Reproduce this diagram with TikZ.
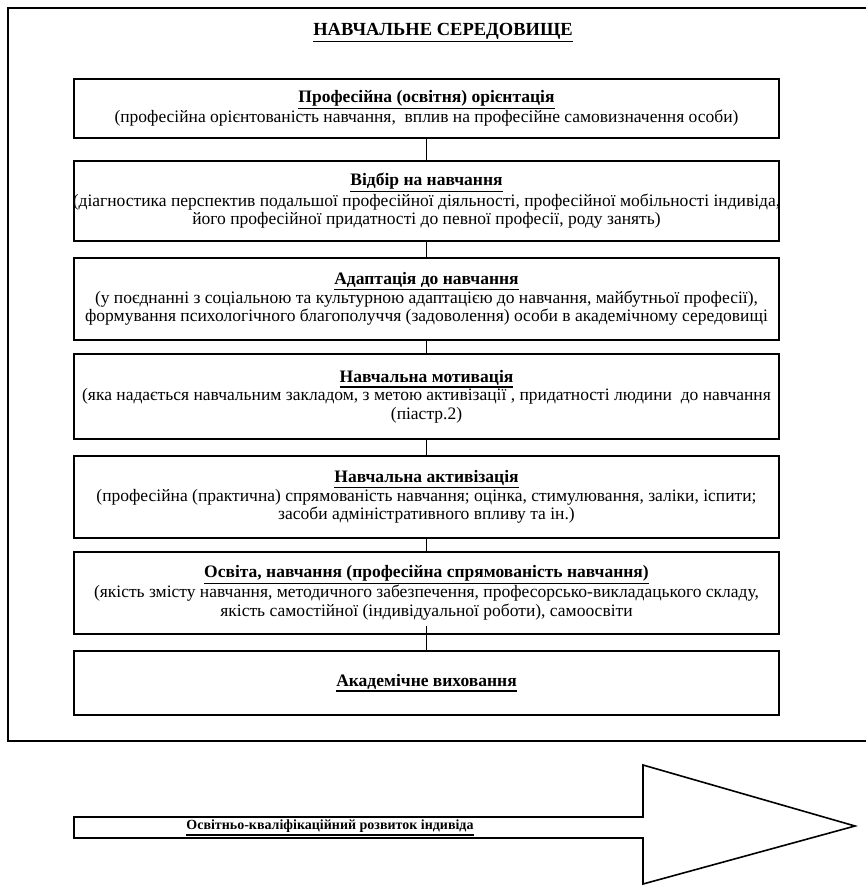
\documentclass[tikz,border=0pt]{standalone}
\usepackage{fontspec}
\setmainfont{Liberation Serif}
\newcommand\ulbf[1]{\textbf{\vtop{\hbox{#1}\kern1.3pt\hrule height 1.5pt}}}
\tikzset{
  stagebox/.style={draw, line width=1.7pt, minimum width=705pt, align=center,
    inner sep=0pt, anchor=north, font=\fontsize{17.5}{18.5}\selectfont},
  conn/.style={line width=1.3pt},
  frame/.style={line width=1.8pt}
}
\begin{document}
\begin{tikzpicture}[x=1pt,y=-1pt]
\useasboundingbox (0,0) rectangle (865,886);
\draw[frame] (880,8) -- (8,8) -- (8,741) -- (880,741);
\node[font=\fontsize{18.5}{20}\selectfont] (title) at (443,33) {\ulbf{НАВЧАЛЬНЕ СЕРЕДОВИЩЕ}};

\node[stagebox, minimum height=59pt] (b1) at (426.5,78)
  {\ulbf{Професійна (освітня) орієнтація}\\
   (професійна орієнтованість навчання,\ \ вплив на професійне самовизначення особи)};
\node[stagebox, minimum height=80pt] (b2) at (426.5,160)
  {\ulbf{Відбір на навчання}\\
   \makebox[680pt][c]{(діагностика перспектив подальшої професійної діяльності, професійної мобільності індивіда,}\\
   його професійної придатності до певної професії, роду занять)};
\node[stagebox, minimum height=82pt] (b3) at (426.5,257)
  {\ulbf{Адаптація до навчання}\\
   (у поєднанні з соціальною та культурною адаптацією до навчання, майбутньої професії),\\
   формування психологічного благополуччя (задоволення) особи в академічному середовищі};
\node[stagebox, minimum height=85pt] (b4) at (426.5,353)
  {\ulbf{Навчальна мотивація}\\
   (яка надається навчальним закладом, з метою активізації , придатності людини\ \ до навчання\\
   (піастр.2)};
\node[stagebox, minimum height=82pt] (b5) at (426.5,455)
  {\ulbf{Навчальна активізація}\\
   (професійна (практична) спрямованість навчання; оцінка, стимулювання, заліки, іспити;\\
   засоби адміністративного впливу та ін.)};
\node[stagebox, minimum height=82pt] (b6) at (426.5,551)
  {\ulbf{Освіта, навчання (професійна спрямованість навчання)}\\
   (якість змісту навчання, методичного забезпечення, професорсько-викладацького складу,\\
   якість самостійної (індивідуальної роботи), самоосвіти};
\node[stagebox, minimum height=64pt] (b7) at (426.5,650)
  {\ulbf{Академічне виховання}};

\draw[conn] (b1.south) -- (b2.north);
\draw[conn] (b2.south) -- (b3.north);
\draw[conn] (b3.south) -- (b4.north);
\draw[conn] (b4.south) -- (b5.north);
\draw[conn] (b5.south) -- (b6.north);
\draw[conn] ([yshift=9pt]b6.south) -- (b7.north);

\draw[line width=1.6pt, line join=miter] (74,817) -- (643,817) -- (643,765) -- (855,826)
  -- (643,884) -- (643,838) -- (74,838) -- cycle;
\node[font=\fontsize{14}{16}\selectfont] (dev) at (330,828)
  {\ulbf{Освітньо-кваліфікаційний розвиток індивіда}};
\end{tikzpicture}
\end{document}
